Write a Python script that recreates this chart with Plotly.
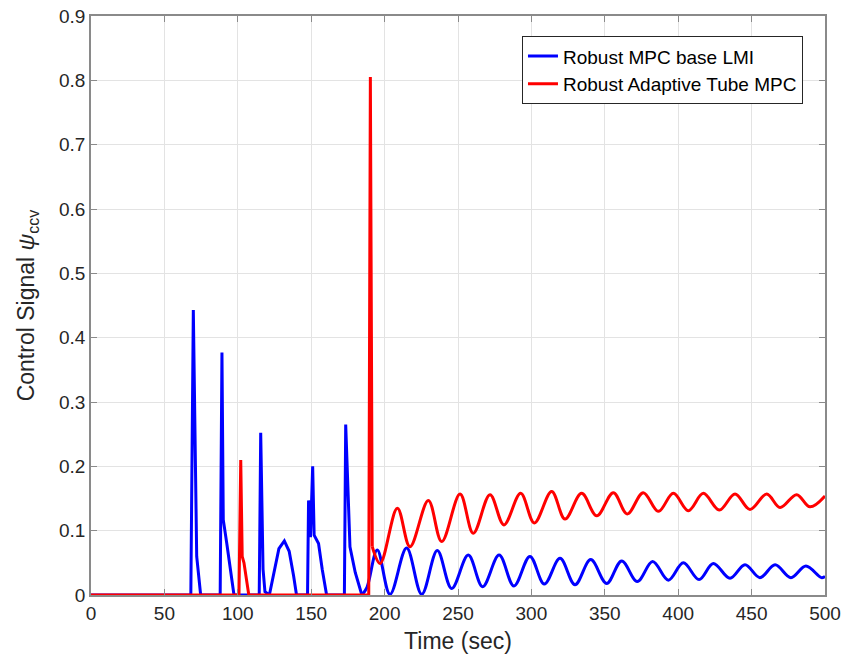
import plotly.graph_objects as go

# ---- Data ----
# Blue: Robust MPC base LMI, spike section (linear segments)
blue_spike_t = [0, 68, 69.7, 72, 74.7, 88, 89.2, 90.1, 92.5, 97.4, 114.6, 115.6, 117.2, 118.5,
                121.5, 124.5, 128, 131.7, 135, 138, 140, 147.5, 148.2, 149.5, 151.0, 152.0,
                155.0, 157.5, 160.5, 172.6, 173.5, 176.4, 180, 184.5]
blue_spike_v = [0, 0, 0.443, 0.06, 0, 0, 0.377, 0.117, 0.08, 0, 0, 0.252, 0.04, 0.005,
                0, 0.035, 0.072, 0.084, 0.068, 0.03, 0, 0, 0.147, 0.09, 0.200, 0.093,
                0.08, 0.04, 0, 0, 0.265, 0.075, 0.035, 0]
# Blue: oscillating section (peaks / troughs)
blue_osc_t = [184.5, 188, 195, 203.7, 215, 225.3, 235.9, 245.7, 257, 266.8, 278, 288.1, 299,
              308.8, 319.5, 329.7, 340.4, 351.3, 361.5, 372.1, 382.6, 393.3, 403.5, 414.2,
              423.9, 435.3, 445.5, 455.7, 466, 476.8, 487, 497.5, 500]
blue_osc_v = [0, 0.012, 0.07, 0.001, 0.073, 0.001, 0.069, 0.010, 0.062, 0.013, 0.062, 0.014,
              0.060, 0.017, 0.057, 0.016, 0.055, 0.018, 0.053, 0.021, 0.052, 0.023, 0.050,
              0.024, 0.049, 0.026, 0.047, 0.027, 0.047, 0.027, 0.045, 0.027, 0.029]

# Red: Robust Adaptive Tube MPC, spike section
red_spike_t = [0, 100.8, 102, 103, 104.2, 107.5, 189.2, 190.3, 191.6]
red_spike_v = [0, 0, 0.21, 0.06, 0.05, 0, 0, 0.805, 0.075]
# Red: oscillating section
red_osc_t = [191.6, 197, 208.7, 217.3, 229.8, 238.9, 251.4, 260.4, 271.8, 281.3, 292.7, 302,
             313.8, 322.9, 334.2, 344.5, 355.8, 365.3, 376.2, 386.5, 396.7, 406.9, 417.1,
             428, 438.7, 448.9, 460.3, 469.4, 480.7, 489.8, 500]
red_osc_v = [0.075, 0.049, 0.135, 0.075, 0.147, 0.083, 0.157, 0.096, 0.156, 0.109, 0.158,
             0.112, 0.161, 0.118, 0.158, 0.123, 0.159, 0.126, 0.159, 0.130, 0.158, 0.131,
             0.158, 0.132, 0.157, 0.133, 0.157, 0.136, 0.156, 0.137, 0.154]

x_ticks = [0, 50, 100, 150, 200, 250, 300, 350, 400, 450, 500]
y_ticks = [0, 0.1, 0.2, 0.3, 0.4, 0.5, 0.6, 0.7, 0.8, 0.9]
y_tick_text = ["0", "0.1", "0.2", "0.3", "0.4", "0.5", "0.6", "0.7", "0.8", "0.9"]

BLUE = "#0000ff"
RED = "#ff0000"
FONT = "Liberation Sans"
TXT = "#262626"

fig = go.Figure()
fig.add_trace(go.Scatter(x=blue_spike_t, y=blue_spike_v, mode="lines",
                         line=dict(color=BLUE, width=3), name="Robust MPC base LMI",
                         legendgroup="b", showlegend=True))
fig.add_trace(go.Scatter(x=blue_osc_t, y=blue_osc_v, mode="lines",
                         line=dict(color=BLUE, width=3, shape="spline", smoothing=1),
                         legendgroup="b", showlegend=False))
fig.add_trace(go.Scatter(x=red_spike_t, y=red_spike_v, mode="lines",
                         line=dict(color=RED, width=3), name="Robust Adaptive Tube MPC",
                         legendgroup="r", showlegend=True))
fig.add_trace(go.Scatter(x=red_osc_t, y=red_osc_v, mode="lines",
                         line=dict(color=RED, width=3, shape="spline", smoothing=1),
                         legendgroup="r", showlegend=False))

axis_common = dict(showgrid=True, gridcolor="#e3e3e3", gridwidth=1, zeroline=False,
                   showline=True, linecolor="#8a8a8a", linewidth=1.5, mirror="ticks",
                   ticks="inside", ticklen=6, tickcolor="#8a8a8a", automargin=False,
                   tickfont=dict(family=FONT, size=19, color=TXT))

fig.update_layout(
    width=846, height=661,
    margin=dict(l=91, r=21, t=16, b=66),
    paper_bgcolor="white", plot_bgcolor="white",
    font=dict(family=FONT, color=TXT),
    xaxis=dict(range=[0, 500], tickvals=x_ticks,
               title=dict(text="Time (sec)", font=dict(family=FONT, size=23, color=TXT), standoff=10),
               **axis_common),
    yaxis=dict(range=[0, 0.9], tickvals=y_ticks, ticktext=y_tick_text,
               title=dict(text="Control Signal <i>ψ</i><sub>ccv</sub>",
                          font=dict(family=FONT, size=23, color=TXT), standoff=18),
               **axis_common),
    legend=dict(x=0.97, y=0.965, xanchor="right", yanchor="top",
                bgcolor="white", bordercolor="#262626", borderwidth=1,
                font=dict(family=FONT, size=19, color="#000000"),
                tracegroupgap=0),
    showlegend=True,
)

fig.write_html("out.html", config={"displayModeBar": False},
               post_script="document.body.style.margin='0px';document.body.style.overflow='hidden';")
